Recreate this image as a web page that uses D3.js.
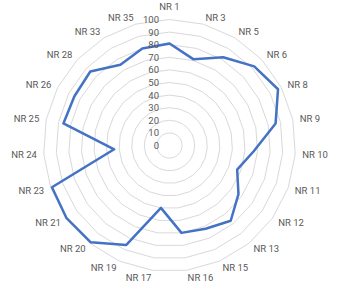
<!DOCTYPE html>
<html>
<head>
<meta charset="utf-8">
<script src="https://cdn.jsdelivr.net/npm/d3@7"></script>
<style>
  html, body { margin: 0; padding: 0; background: #ffffff; }
  svg { display: block; }
  text { font-family: Roboto, "Liberation Sans", Arial, sans-serif; fill: #595959; }
</style>
</head>
<body>
<svg id="chart" width="340" height="290"></svg>
<script>
const categories = ["NR 1","NR 3","NR 5","NR 6","NR 8","NR 9","NR 10","NR 11","NR 12","NR 13","NR 15","NR 16","NR 17","NR 19","NR 20","NR 21","NR 23","NR 24","NR 25","NR 26","NR 28","NR 33","NR 35"];
const values = [81, 71, 82, 92, 97, 86, 67, 57, 67, 77, 72, 70, 50, 86, 99, 100, 99, 44, 86, 85, 86, 75, 80];
const tickValues = [0, 10, 20, 30, 40, 50, 60, 70, 80, 90, 100];

const svg = d3.select("#chart");
const cx = 169.5, cy = 145.5, R = 126;

const r = d3.scaleLinear().domain([0, 100]).range([0, R]);
const angle = d3.scaleBand().domain(categories).range([0, 2 * Math.PI]).padding(0);

const g = svg.append("g").attr("transform", `translate(${cx},${cy})`);

// grid polygons
const gridLine = d3.lineRadial()
  .angle(d => angle(d))
  .curve(d3.curveLinearClosed);

g.append("g").selectAll("path")
  .data(tickValues.filter(t => t > 0))
  .join("path")
  .attr("d", t => gridLine.radius(() => r(t))(categories))
  .attr("fill", "none")
  .attr("stroke", "#d9d9d9")
  .attr("stroke-width", 1);

// data line
const dataLine = d3.lineRadial()
  .angle((d, i) => angle(categories[i]))
  .radius(d => r(d))
  .curve(d3.curveLinearClosed);

g.append("path")
  .attr("d", dataLine(values))
  .attr("fill", "none")
  .attr("stroke", "#4472C4")
  .attr("stroke-width", 2.5)
  .attr("stroke-linejoin", "round");

// tick labels
g.append("g").selectAll("text")
  .data(tickValues)
  .join("text")
  .attr("x", -10.5)
  .attr("y", t => -r(t))
  .attr("text-anchor", "end")
  .attr("dominant-baseline", "central")
  .attr("font-size", "9.5px")
  .text(t => t);

// category labels
const labelDist = 133;
g.append("g").selectAll("text")
  .data(categories)
  .join("text")
  .each(function(c) {
    const a = angle(c);
    const sx = Math.sin(a), sy = -Math.cos(a);
    const x = labelDist * sx, y = labelDist * sy;
    const t = d3.select(this);
    let anchor = "middle", dy = 0;
    if (sx > 0.05) anchor = "start";
    else if (sx < -0.05) anchor = "end";
    else dy = sy < 0 ? -6 : 6;
    t.attr("x", x).attr("y", y + dy)
      .attr("text-anchor", anchor)
      .attr("dominant-baseline", "central")
      .attr("font-size", "9.5px")
      .text(c);
  });
</script>
</body>
</html>
